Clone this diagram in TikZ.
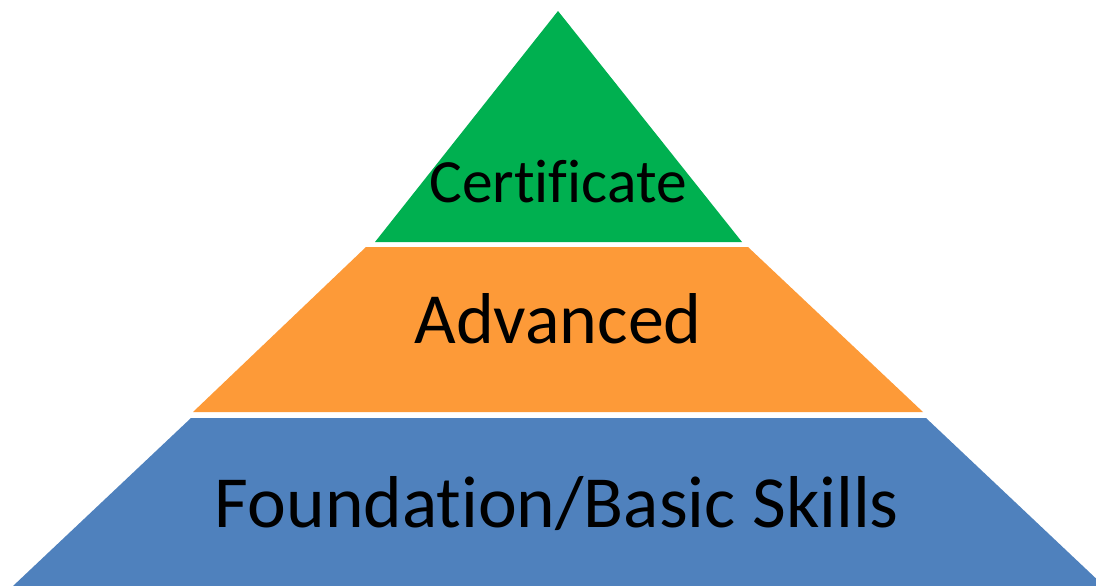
\documentclass[tikz,border=0pt]{standalone}
\usepackage{fontspec}
\setmainfont{Carlito}[RawFeature={-liga}]
\usepackage{xcolor}
\definecolor{topgreen}{HTML}{00B050}
\definecolor{midorange}{HTML}{FD9A38}
\definecolor{basblue}{HTML}{4F81BD}

\begin{document}
\begin{tikzpicture}[x=1pt,y=-1pt]
	\useasboundingbox (0,0) rectangle (1096,586);
	\clip (0,0) rectangle (1096,586);

	\fill[topgreen] (558,11) -- (742,242) -- (375,242) -- cycle;
	\fill[midorange] (366,247) -- (748,247) -- (923,412) -- (193,412) -- cycle;
	\fill[basblue] (191,418) -- (926,418) -- (1104,586) -- (13,586) -- cycle;

	\node[anchor=base,inner sep=0pt] (cert) at (558,202) {\fontsize{61.5}{70}\selectfont Certificate};
	\node[anchor=base,inner sep=0pt] (adv) at (558,343) {\fontsize{72}{80}\selectfont Advanced};
	\node[anchor=base,inner sep=0pt] (found) at (557,527) {\fontsize{73.5}{80}\selectfont Foundation/Basic Skills};
\end{tikzpicture}
\end{document}
